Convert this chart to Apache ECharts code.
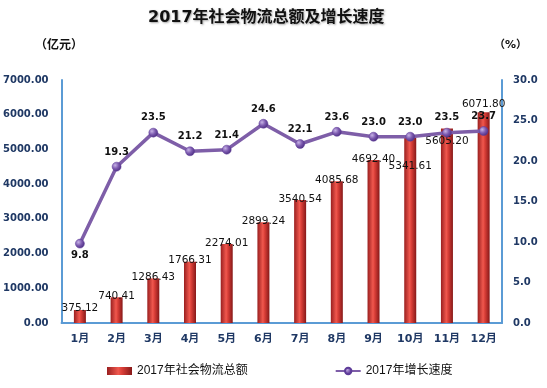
<!DOCTYPE html>
<html><head><meta charset="utf-8">
<script src="https://cdn.jsdelivr.net/npm/echarts@6/dist/echarts.min.js"></script>
<style>html,body{margin:0;padding:0;background:#fff}#c{width:547px;height:388px}</style>
</head><body><div id="c"></div>
<script>
var categories = ['1月','2月','3月','4月','5月','6月','7月','8月','9月','10月','11月','12月'];
var totalValues = [375.12, 740.41, 1286.43, 1766.31, 2274.01, 2899.24, 3540.54, 4085.68, 4692.40, 5341.61, 5605.20, 6071.80];
var growthValues = [9.8, 19.3, 23.5, 21.2, 21.4, 24.6, 22.1, 23.6, 23.0, 23.0, 23.5, 23.7];
var barName = '2017年社会物流总额';
var lineName = '2017年增长速度';

var F = "'DejaVu Sans','Noto Sans CJK SC',sans-serif";
var FL = "'Liberation Sans','Noto Sans CJK SC',sans-serif";
var axisColor = '#1F3864';
var axisLineColor = '#5B9BD5';
var barGrad = new echarts.graphic.LinearGradient(0,0,1,0,[
  {offset:0,color:'#9A1F1F'},{offset:0.45,color:'#F0584E'},{offset:0.6,color:'#DA3F38'},{offset:1,color:'#861818'}]);
var dotGrad = new echarts.graphic.RadialGradient(0.35,0.35,0.7,[
  {offset:0,color:'#C7B3E6'},{offset:0.5,color:'#7D5BB0'},{offset:1,color:'#4B2C80'}]);

var barData = totalValues.map(function(v,i){
  var d = {value:v};
  if(i===9) d.label = {position:'insideTop', distance: 23};
  if(i===10) d.label = {position:'insideTop', distance: 8};
  if(i===11) d.label = {distance: 3};
  return d;
});
var lineData = growthValues.map(function(v,i){
  var d = {value:v};
  if(i===0) d.label = {position:'bottom', distance: 2};
  return d;
});

var chart = echarts.init(document.getElementById('c'));
chart.setOption({
  animation:false,
  title:{text:'2017年社会物流总额及增长速度', left:143, top:5,
    textStyle:{fontFamily:F, fontSize:16, fontWeight:'bold', color:'#111',
      textShadowColor:'rgba(0,0,0,0.35)', textShadowBlur:2, textShadowOffsetX:1, textShadowOffsetY:1}},
  graphic:[
    {type:'text', left:35, top:40, style:{text:'（亿元）', fontFamily:F, fontSize:12, fontWeight:'bold', fill:'#111'}},
    {type:'text', left:494, top:40, style:{text:'（%）', fontFamily:F, fontSize:11, fontWeight:'bold', fill:'#111'}}
  ],
  legend:{left:102, top:360, itemWidth:25, itemHeight:8, itemGap:87,
    textStyle:{fontFamily:FL, fontSize:12, color:'#111'},
    data:[{name:barName, icon:'rect'},{name:lineName}]},
  grid:{left:59, right:45, top:80, bottom:65},
  xAxis:{type:'category', data:categories,
    axisLine:{lineStyle:{color:axisLineColor, width:2}},
    axisTick:{show:false},
    axisLabel:{fontFamily:F, fontSize:11, fontWeight:'bold', color:axisColor, margin:11}},
  yAxis:[
    {type:'value', min:0, max:7000, interval:1000,
      axisLine:{show:true, lineStyle:{color:axisLineColor, width:2}},
      axisTick:{show:false}, splitLine:{show:false},
      axisLabel:{fontFamily:F, fontSize:10, fontWeight:'bold', color:axisColor, margin:13,
        formatter:function(v){return v.toFixed(2);}}},
    {type:'value', min:0, max:30, interval:5,
      axisLine:{show:true, lineStyle:{color:axisLineColor, width:2}},
      axisTick:{show:false}, splitLine:{show:false},
      axisLabel:{fontFamily:F, fontSize:10, fontWeight:'bold', color:axisColor, margin:11,
        formatter:function(v){return v.toFixed(1);}}}
  ],
  series:[
    {name:barName, type:'bar', data:barData, barWidth:12, yAxisIndex:0,
      itemStyle:{color:barGrad},
      label:{show:true, position:'top', distance:-4, fontFamily:F, fontSize:10.5, color:'#111',
        formatter:function(p){return p.value.toFixed(2);}}},
    {name:lineName, type:'line', data:lineData, yAxisIndex:1, z:5,
      symbol:'circle', symbolSize:9,
      lineStyle:{color:'#7E5EA8', width:3.5},
      itemStyle:{color:dotGrad, borderColor:'#5E3C99', borderWidth:0.5},
      label:{show:true, position:'top', distance:5, fontFamily:F, fontSize:10, fontWeight:'bold', color:'#111',
        formatter:function(p){return p.value.toFixed(1);}}}
  ]
});
</script></body></html>
